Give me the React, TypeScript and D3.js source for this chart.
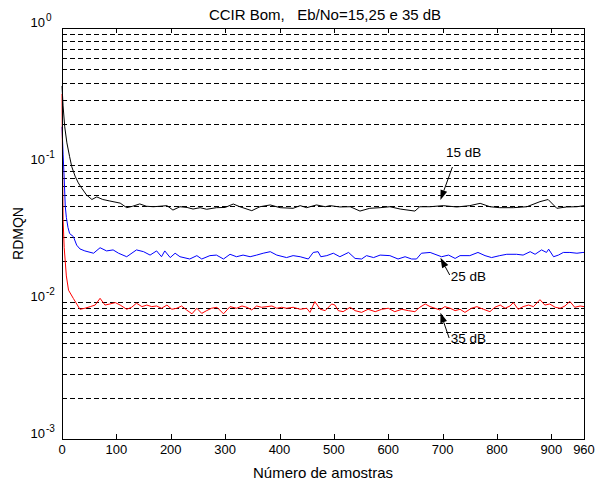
import React from "react";
import * as d3 from "d3";

const W = 599;
const H = 488;

const titleText = "CCIR Bom,   Eb/No=15,25 e 35 dB";
const xLabel = "Número de amostras";
const yLabel = "RDMQN";
const xTicks = [0, 100, 200, 300, 400, 500, 600, 700, 800, 900, 960];
const yDecades = [1e-3, 1e-2, 1e-1, 1];
const yExponents = ["-3", "-2", "-1", "0"];
const minorMultipliers = [2, 3, 4, 5, 6, 7, 8, 9];

// 15 dB (black)
const blackX = [0, 2, 5, 9, 14, 18, 24, 30, 36, 45, 55, 64, 75, 88, 107, 119, 130, 143, 155, 168, 180, 193, 204, 217, 230, 241, 254, 266, 284, 300, 315, 327, 349, 364, 383, 401, 425, 438, 450, 468, 484, 493, 511, 530, 548, 566, 585, 603, 622, 649, 658, 677, 701, 726, 750, 769, 787, 805, 830, 855, 879, 894, 910, 928, 947, 960];
const blackY = [0.377, 0.27, 0.19, 0.145, 0.115, 0.097, 0.083, 0.074, 0.068, 0.0605, 0.056, 0.0585, 0.056, 0.0546, 0.0527, 0.0488, 0.05, 0.052, 0.05, 0.0496, 0.05, 0.0505, 0.0469, 0.0496, 0.049, 0.0477, 0.0488, 0.0475, 0.0488, 0.049, 0.0519, 0.0496, 0.0464, 0.0496, 0.0511, 0.0488, 0.0483, 0.0505, 0.0488, 0.0511, 0.0496, 0.0505, 0.0494, 0.0496, 0.0461, 0.0483, 0.0488, 0.0496, 0.0477, 0.0461, 0.0496, 0.0496, 0.0505, 0.0494, 0.0505, 0.0525, 0.0496, 0.0488, 0.0488, 0.0496, 0.054, 0.056, 0.0483, 0.0494, 0.0496, 0.0505];

// 25 dB (blue)
const blueX = [0, 2, 4, 6, 8, 11, 14, 21, 27, 33, 42, 58, 70, 82, 94, 104, 119, 137, 150, 162, 174, 183, 189, 199, 208, 217, 235, 248, 257, 272, 284, 297, 309, 321, 333, 346, 358, 370, 383, 395, 413, 425, 438, 453, 462, 471, 476, 487, 499, 511, 527, 539, 551, 560, 573, 585, 603, 618, 631, 643, 652, 661, 677, 686, 698, 711, 723, 732, 750, 765, 778, 790, 805, 818, 836, 848, 861, 870, 882, 891, 895, 904, 913, 922, 934, 947, 958, 960];
const blueY = [0.19, 0.12, 0.08, 0.05, 0.0415, 0.035, 0.0316, 0.03, 0.026, 0.0244, 0.0236, 0.0227, 0.0249, 0.0236, 0.024, 0.0227, 0.0214, 0.024, 0.0233, 0.022, 0.0236, 0.0214, 0.0236, 0.0211, 0.0227, 0.0214, 0.0206, 0.0218, 0.0206, 0.0218, 0.022, 0.0206, 0.0223, 0.0214, 0.022, 0.0214, 0.022, 0.0227, 0.0233, 0.022, 0.0211, 0.0218, 0.0214, 0.0206, 0.023, 0.0233, 0.0214, 0.0218, 0.0227, 0.0214, 0.023, 0.0208, 0.0206, 0.0218, 0.0211, 0.022, 0.0218, 0.0206, 0.0214, 0.0206, 0.0206, 0.0227, 0.023, 0.0223, 0.0214, 0.022, 0.0208, 0.0218, 0.0218, 0.023, 0.0218, 0.0211, 0.0218, 0.0223, 0.0223, 0.022, 0.0233, 0.0223, 0.024, 0.023, 0.0243, 0.0214, 0.022, 0.023, 0.023, 0.0227, 0.023, 0.023];

// 35 dB (red)
const redX = [0, 1, 2, 4, 8, 12, 21, 33, 42, 52, 61, 70, 79, 88, 98, 107, 119, 128, 137, 147, 156, 165, 174, 183, 193, 202, 211, 220, 229, 239, 248, 257, 266, 275, 285, 297, 309, 321, 331, 340, 349, 358, 367, 377, 386, 395, 404, 413, 425, 438, 450, 456, 465, 475, 484, 496, 502, 508, 517, 530, 539, 551, 563, 576, 588, 600, 612, 625, 637, 649, 658, 668, 677, 686, 695, 704, 714, 723, 732, 741, 753, 763, 775, 787, 796, 806, 815, 824, 830, 839, 848, 858, 867, 879, 888, 897, 907, 916, 925, 934, 943, 953, 960];
const redY = [0.33, 0.1, 0.04, 0.025, 0.0155, 0.0122, 0.0106, 0.00885, 0.009, 0.00925, 0.0095, 0.01064, 0.0095, 0.00967, 0.0099, 0.0095, 0.00885, 0.00915, 0.0098, 0.00925, 0.0095, 0.00925, 0.00935, 0.009, 0.0095, 0.00885, 0.009, 0.00935, 0.00875, 0.0082, 0.009, 0.00826, 0.00865, 0.009, 0.00915, 0.0082, 0.00925, 0.009, 0.00935, 0.00915, 0.00875, 0.00935, 0.00915, 0.00925, 0.00935, 0.009, 0.00915, 0.009, 0.00915, 0.00885, 0.009, 0.0084, 0.01006, 0.00885, 0.00865, 0.00967, 0.0095, 0.00865, 0.0085, 0.00915, 0.00865, 0.0084, 0.00885, 0.0085, 0.00885, 0.009, 0.0085, 0.00885, 0.00865, 0.0085, 0.00915, 0.00967, 0.00925, 0.009, 0.00875, 0.00925, 0.009, 0.00865, 0.00885, 0.0084, 0.009, 0.00925, 0.00885, 0.0085, 0.00915, 0.0095, 0.009, 0.00935, 0.0099, 0.00885, 0.00925, 0.0095, 0.00925, 0.0104, 0.0095, 0.00967, 0.00915, 0.009, 0.00935, 0.0101, 0.00915, 0.00935, 0.00925];

// annotations: label, text anchor (sample, value), arrow tail, arrow tip
const annLabels = ["15 dB", "25 dB", "35 dB"];
const annTextX = [706, 715, 715];
const annTextY = [0.1144, 0.0143, 0.00502];
const annTailX = [718, 713, 712];
const annTailY = [0.0967, 0.01574, 0.00546];
const annTipX = [696, 696, 696];
const annTipY = [0.0555, 0.021, 0.00835];

const FONT = "'Liberation Sans', Arial, Helvetica, sans-serif";

export default function App() {
  const left = 62, right = 584, top = 28, bottom = 439;
  const x = d3.scaleLinear().domain([0, 960]).range([left, right]);
  const y = d3.scaleLog().domain([1e-3, 1]).range([bottom, top]);

  const line = d3
    .line<[number, number]>()
    .x((d) => x(d[0]))
    .y((d) => y(d[1]));

  const series = [
    { xs: blackX, ys: blackY, color: "#000000" },
    { xs: blueX, ys: blueY, color: "#0000ff" },
    { xs: redX, ys: redY, color: "#ff0000" },
  ];

  const minorVals: number[] = [];
  yDecades.slice(0, 3).forEach((dcd) =>
    minorMultipliers.forEach((m) => minorVals.push(dcd * m))
  );
  const gridVals = [...minorVals, 1e-2, 1e-1];

  return (
    <svg
      width={W}
      height={H}
      style={{ position: "absolute", left: 0, top: 0, background: "#fff" }}
      fontFamily={FONT}
    >
      <rect x={0} y={0} width={W} height={H} fill="#fff" />
      {gridVals.map((v, i) => (
        <line
          key={"g" + i}
          x1={left}
          x2={right}
          y1={Math.round(y(v)) + 0.5}
          y2={Math.round(y(v)) + 0.5}
          stroke="#000"
          strokeWidth={1}
          strokeDasharray="5,3"
        />
      ))}
      {xTicks.map((t) => (
        <g key={"xt" + t}>
          <line x1={Math.round(x(t)) + 0.5} x2={Math.round(x(t)) + 0.5} y1={bottom} y2={bottom - 5} stroke="#000" />
          <line x1={Math.round(x(t)) + 0.5} x2={Math.round(x(t)) + 0.5} y1={top} y2={top + 5} stroke="#000" />
          <text x={x(t)} y={454} textAnchor="middle" fontSize={13} fill="#000">
            {t}
          </text>
        </g>
      ))}
      {minorVals.map((v, i) => (
        <g key={"ymt" + i}>
          <line x1={left} x2={left + 3} y1={Math.round(y(v)) + 0.5} y2={Math.round(y(v)) + 0.5} stroke="#000" />
          <line x1={right} x2={right - 3} y1={Math.round(y(v)) + 0.5} y2={Math.round(y(v)) + 0.5} stroke="#000" />
        </g>
      ))}
      {yDecades.map((v, i) => (
        <g key={"yt" + i}>
          <line x1={left} x2={left + 5} y1={Math.round(y(v)) + 0.5} y2={Math.round(y(v)) + 0.5} stroke="#000" />
          <line x1={right} x2={right - 5} y1={Math.round(y(v)) + 0.5} y2={Math.round(y(v)) + 0.5} stroke="#000" />
          <text x={45} y={y(v) - 1} textAnchor="end" fontSize={13} fill="#000">
            10
          </text>
          <text x={46} y={y(v) - 7} textAnchor="start" fontSize={10} fill="#000">
            {yExponents[i]}
          </text>
        </g>
      ))}
      {series.map((s, i) => (
        <path
          key={"s" + i}
          d={line(s.xs.map((xv, j) => [xv, s.ys[j]] as [number, number])) || ""}
          fill="none"
          stroke={s.color}
          strokeWidth={1}
        />
      ))}
      <rect x={left + 0.5} y={top + 0.5} width={right - left} height={bottom - top} fill="none" stroke="#000" />
      {annLabels.map((lab, i) => {
        const x1 = x(annTailX[i]);
        const y1 = y(annTailY[i]);
        const x2 = x(annTipX[i]);
        const y2 = y(annTipY[i]);
        const dx = x2 - x1;
        const dy = y2 - y1;
        const len = Math.sqrt(dx * dx + dy * dy);
        const ux = dx / len;
        const uy = dy / len;
        const hl = 10;
        const hw = 3.5;
        const bx = x2 - ux * hl;
        const by = y2 - uy * hl;
        const pts = [
          [x2, y2],
          [bx - uy * hw, by + ux * hw],
          [bx + uy * hw, by - ux * hw],
        ]
          .map((p) => p.join(","))
          .join(" ");
        return (
          <g key={"a" + i}>
            <line x1={x1} y1={y1} x2={bx} y2={by} stroke="#000" strokeWidth={1} />
            <polygon points={pts} fill="#000" />
            <text x={x(annTextX[i])} y={y(annTextY[i])} fontSize={13.5} fill="#000">
              {lab}
            </text>
          </g>
        );
      })}
      <text x={(left + right) / 2 + 2} y={20} textAnchor="middle" fontSize={15} fill="#000" style={{ whiteSpace: "pre" }}>
        {titleText}
      </text>
      <text x={(left + right) / 2} y={478} textAnchor="middle" fontSize={15} fill="#000">
        {xLabel}
      </text>
      <text
        transform={`translate(23, ${(top + bottom) / 2}) rotate(-90)`}
        textAnchor="middle"
        fontSize={14}
        fill="#000"
      >
        {yLabel}
      </text>
    </svg>
  );
}
